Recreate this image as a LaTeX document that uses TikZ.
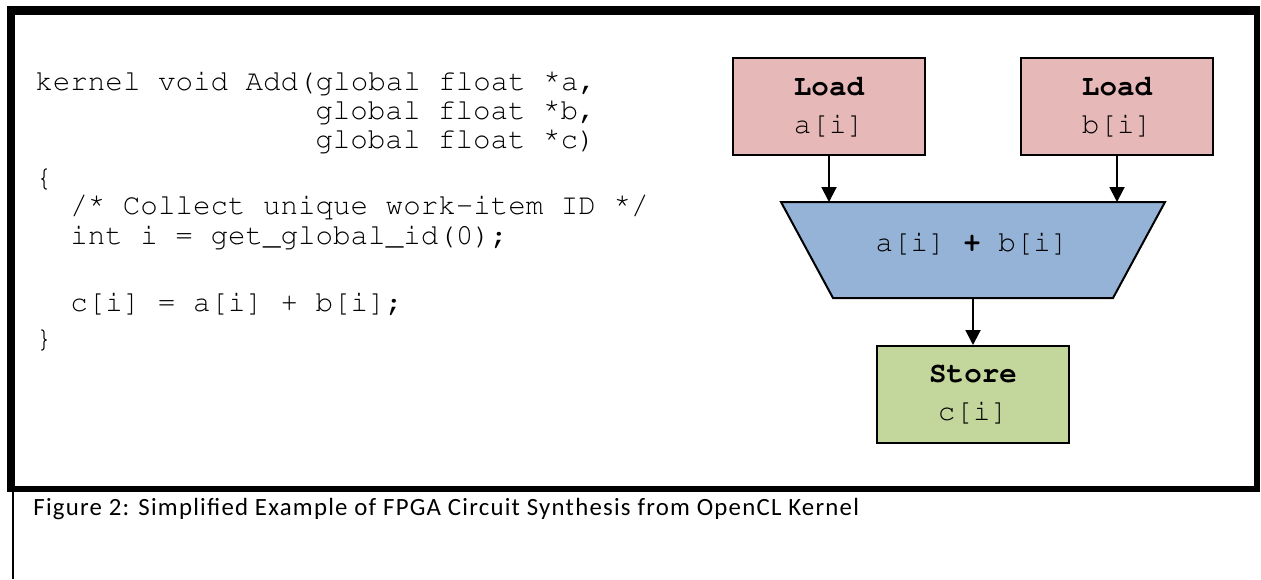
\documentclass[tikz,border=0pt]{standalone}
\usepackage{fontspec}
\newfontfamily\capfont[LetterSpace=5]{Carlito}
\newcommand\couriertt{\fontencoding{T1}\fontfamily{pcr}\fontsize{14.6}{19}\selectfont}
\newcommand\upstar{\raisebox{3pt}{*}}
\usetikzlibrary{arrows.meta,positioning}
\definecolor{loadred}{HTML}{E6B8B7}
\definecolor{addblue}{HTML}{95B3D7}
\definecolor{storegreen}{HTML}{C3D69B}

\begin{document}
\begin{tikzpicture}[x=0.5pt, y=-0.5pt,
  code/.style={anchor=base west, inner sep=0pt, font=\couriertt},
  opbox/.style={draw, line width=1pt, minimum width=96pt, minimum height=48.5pt,
    align=center, inner sep=0pt, font=\couriertt},
  flow/.style={-{Triangle[length=7.5pt,width=7.5pt]}, line width=1pt}]
% page: 1 unit = 1 pixel of the 1261x579 figure, y grows downwards
\useasboundingbox (0,0) rectangle (1261,579);

% Thick frame round the figure, thin rule below it
\fill (7,6) rectangle (1260,492);
\fill[white] (15,15) rectangle (1254,486);
\draw[line width=1pt] (12.5,492) -- (12.5,579);

% Kernel source, one node per line (column width 17.52)
\node[code] (ln1) at (35,90)  {kernel void Add(global float \upstar a,};
\node[code] (ln2) at (315,119) {global float \upstar b,};
\node[code] (ln3) at (315,148) {global float \upstar c)};
\node[code] (ln4) at (35,186) {\{};
\node[code] (ln5) at (70,214) {/\upstar{} Collect unique work-item ID \upstar/};
\node[code] (ln6) at (70,244) {int i = get\_global\_id(0);};
\node[code] (ln7) at (70,311) {c[i] = a[i] + b[i];};
\node[code] (ln8) at (35,347) {\}};

% Synthesised circuit
\node[opbox, fill=loadred] (lda) at (829,106.5) {\textbf{Load}\\a[i]};
\node[opbox, fill=loadred] (ldb) at (1117,106.5) {\textbf{Load}\\b[i]};

% adder: trapezoid, wide side on top
\coordinate (addtl) at (781,202);
\coordinate (addtr) at (1165,202);
\coordinate (addbr) at (1113,298);
\coordinate (addbl) at (833,298);
\filldraw[fill=addblue, line width=1pt] (addtl) -- (addtr) -- (addbr) -- (addbl) -- cycle;
\node[anchor=base, inner sep=0pt, font=\couriertt] (add) at (972,251) {a[i] \textbf{+} b[i]};

\node[opbox, fill=storegreen] (st) at (973,394.5) {\textbf{Store}\\c[i]};

\draw[flow] (lda.south) -- (lda.south |- addtl);
\draw[flow] (ldb.south) -- (ldb.south |- addtl);
\draw[flow] (st.north |- addbl) -- (st.north);

% Caption
\node[anchor=base west, inner sep=0pt, font=\capfont\fontsize{12.4}{15}\selectfont] (cap) at (33,515)
  {Figure 2: Simplified Example of FPGA Circuit Synthesis from OpenCL Kernel};

\end{tikzpicture}
\end{document}
